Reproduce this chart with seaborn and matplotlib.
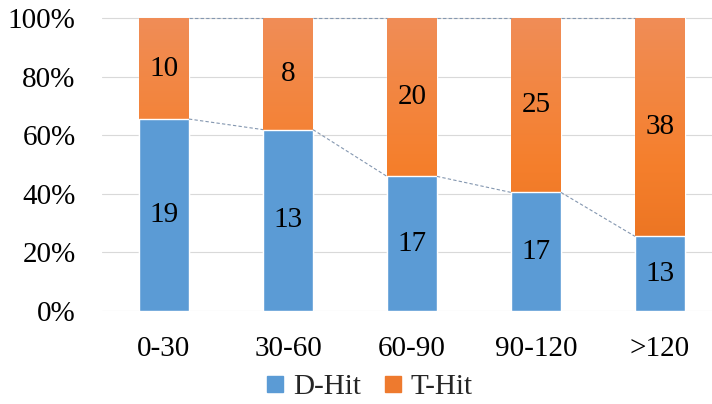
import numpy as np
import pandas as pd
import matplotlib
matplotlib.use("Agg")
import matplotlib.pyplot as plt
from matplotlib.colors import LinearSegmentedColormap
from matplotlib.lines import Line2D
import seaborn as sns

categories = ["0-30", "30-60", "60-90", "90-120", ">120"]
d_hit = [19, 13, 17, 17, 13]
t_hit = [10, 8, 20, 25, 38]
y_ticks = [0, 20, 40, 60, 80, 100]

sns.set_theme(style="white")
plt.rcParams["font.family"] = ["Liberation Serif", "DejaVu Serif"]

FS = 21
blue = "#5B9BD5"
orange_grad = LinearSegmentedColormap.from_list(
    "orange_grad", ["#E46C1A", "#F57F2C", "#F08D57"])
series_line = "#8497B0"

df = pd.DataFrame({"cat": categories, "d": d_hit, "t": t_hit})
df["total"] = df["d"] + df["t"]
df["d_pct"] = df["d"] / df["total"] * 100
df["full"] = 100.0

fig = plt.figure(figsize=(7.12, 4.04), dpi=100)
ax = fig.add_axes([102 / 712, 93 / 404, 610 / 712, 298.86 / 404])

bw = 0.403
sns.barplot(data=df, x="cat", y="full", color="#F57F2C", width=bw,
            saturation=1, ax=ax, zorder=2)
sns.barplot(data=df, x="cat", y="d_pct", color=blue, width=bw,
            saturation=1, ax=ax, zorder=3)

# vertical gradient on the T-Hit segments
grad = np.linspace(0, 1, 256).reshape(-1, 1)
for patch in ax.containers[0]:
    x0, y0 = patch.get_x(), patch.get_y()
    w, h = patch.get_width(), patch.get_height()
    im = ax.imshow(grad, cmap=orange_grad, origin="lower", aspect="auto",
                   extent=[x0, x0 + w, y0, y0 + h], zorder=2.5)
    im.set_clip_path(patch)

ax.set_xlim(-0.5, 4.42)
ax.set_ylim(0, 102)

# series lines joining segment tops
dp = df["d_pct"].tolist()
for i in range(len(categories) - 1):
    ax.plot([i + bw / 2, i + 1 - bw / 2], [dp[i], dp[i + 1]],
            color=series_line, lw=0.8, ls=(0, (3, 2)), zorder=4)
    ax.plot([i + bw / 2, i + 1 - bw / 2], [100, 100],
            color=series_line, lw=0.8, ls=(0, (3, 2)), zorder=4)

# value labels
for i, row in df.iterrows():
    ax.text(i, row["d_pct"] / 2, f"{row['d']}", ha="center", va="center",
            fontsize=FS, color="black", zorder=5)
    ax.text(i, row["d_pct"] + (100 - row["d_pct"]) / 2, f"{row['t']}",
            ha="center", va="center", fontsize=FS, color="black", zorder=5)

ax.set_yticks(y_ticks)
ax.set_yticklabels([f"{v}%" for v in y_ticks])
ax.yaxis.grid(True, color="#D9D9D9", lw=0.8, zorder=0)
ax.set_axisbelow(True)
ax.tick_params(axis="y", length=0, pad=19, labelsize=FS, labelcolor="black")
ax.tick_params(axis="x", length=0, pad=18, labelsize=FS, labelcolor="black")
ax.set_xlabel("")
ax.set_ylabel("")
for s in ax.spines.values():
    s.set_visible(False)

handles = [
    Line2D([], [], marker="s", ls="", markersize=11.5, color=blue),
    Line2D([], [], marker="s", ls="", markersize=11.5, color="#EE7A2E"),
]
fig.legend(handles, ["D-Hit", "T-Hit"], loc="center", ncol=2,
           bbox_to_anchor=(0.517, 0.042), frameon=False, fontsize=FS,
           handlelength=0.8, handletextpad=0.2, columnspacing=0.7,
           borderpad=0, borderaxespad=0)

fig.savefig("out.png", dpi=100)
